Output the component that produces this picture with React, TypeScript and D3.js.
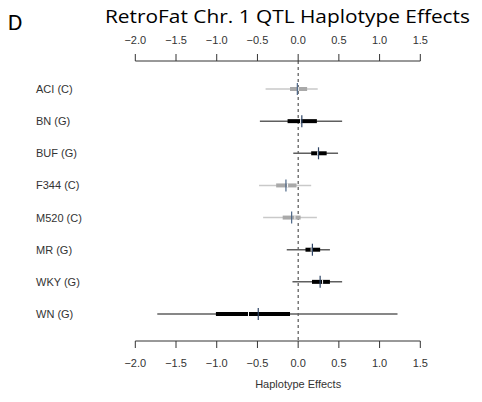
import React from 'react';
import * as d3 from 'd3';

// strains and their group (C = light, G = dark)
const strains = ['ACI (C)', 'BN (G)', 'BUF (G)', 'F344 (C)', 'M520 (C)', 'MR (G)', 'WKY (G)', 'WN (G)'];
const groups = ['C', 'G', 'G', 'C', 'C', 'G', 'G', 'G'];
// outer interval
const lower95 = [-0.40, -0.47, -0.06, -0.48, -0.43, -0.14, -0.07, -1.73];
const upper95 = [0.24, 0.54, 0.49, 0.16, 0.23, 0.39, 0.54, 1.22];
// inner interval
const lower50 = [-0.10, -0.13, 0.16, -0.27, -0.19, 0.09, 0.17, -1.01];
const upper50 = [0.11, 0.23, 0.35, -0.02, 0.03, 0.27, 0.39, -0.10];
// point estimate
const means = [-0.01, 0.045, 0.25, -0.15, -0.08, 0.175, 0.27, -0.49];
const medians = [0.0, 0.03, 0.24, -0.13, -0.04, 0.16, 0.3, -0.61];
const ticks = [-2.0, -1.5, -1.0, -0.5, 0.0, 0.5, 1.0, 1.5];

const W = 482;
const H = 402;

export default function App() {
  const x = d3.scaleLinear().domain([-2, 1.5]).range([135.3, 420.3]);
  const y = d3.scalePoint<string>().domain(strains).range([89, 314]);
  const topAxisY = 61;
  const bottomAxisY = 341;
  const font = 'Liberation Sans, Arial, sans-serif';

  return (
    <svg width={W} height={H} style={{ position: 'absolute', left: 0, top: 0, background: '#fff' }}>
      <text x={8} y={30} fontFamily="Carlito, 'Open Sans', sans-serif" fontSize={23} fill="#000">D</text>
      <text x={105} y={23} fontFamily="'Open Sans', sans-serif" fontSize={19} fill="#000"
        textLength={365} lengthAdjust="spacingAndGlyphs">RetroFat Chr. 1 QTL Haplotype Effects</text>

      {/* top axis */}
      <line x1={x(-2)} x2={x(1.5)} y1={topAxisY} y2={topAxisY} stroke="#333" />
      {ticks.map((t) => (
        <g key={'t' + t}>
          <line x1={x(t)} x2={x(t)} y1={topAxisY} y2={topAxisY - 7} stroke="#333" />
          <text x={x(t)} y={44} textAnchor="middle" fontFamily={font} fontSize={11} fill="#333">
            {d3.format('.1f')(t).replace('-', '\u2212')}
          </text>
        </g>
      ))}

      {/* bottom axis */}
      <line x1={x(-2)} x2={x(1.5)} y1={bottomAxisY} y2={bottomAxisY} stroke="#333" />
      {ticks.map((t) => (
        <g key={'b' + t}>
          <line x1={x(t)} x2={x(t)} y1={bottomAxisY} y2={bottomAxisY + 7} stroke="#333" />
          <text x={x(t)} y={367} textAnchor="middle" fontFamily={font} fontSize={11} fill="#333">
            {d3.format('.1f')(t).replace('-', '\u2212')}
          </text>
        </g>
      ))}
      <text x={x(0)} y={388} textAnchor="middle" fontFamily={font} fontSize={11} fill="#333">Haplotype Effects</text>

      {/* zero line */}
      <line x1={x(0)} x2={x(0)} y1={topAxisY} y2={bottomAxisY} stroke="#333" strokeDasharray="3,3" />

      {strains.map((s, i) => {
        const cy = y(s) as number;
        const light = groups[i] === 'C';
        return (
          <g key={s}>
            <text x={36} y={cy + 4} fontFamily={font} fontSize={11} fill="#333">{s}</text>
            <line x1={x(lower95[i])} x2={x(upper95[i])} y1={cy} y2={cy}
              stroke={light ? '#c9c9c9' : '#5f5f5f'} strokeWidth={1.5} />
            <line x1={x(lower50[i])} x2={x(upper50[i])} y1={cy} y2={cy}
              stroke={light ? '#a9a9a9' : '#000'} strokeWidth={4} />
            <line x1={x(medians[i])} x2={x(medians[i])} y1={cy - 2} y2={cy + 2}
              stroke="#fff" strokeWidth={1} />
            <line x1={x(means[i])} x2={x(means[i])} y1={cy - 6} y2={cy + 6}
              stroke={light ? '#4d6787' : '#2f4566'} strokeWidth={1.2} />
          </g>
        );
      })}
    </svg>
  );
}
